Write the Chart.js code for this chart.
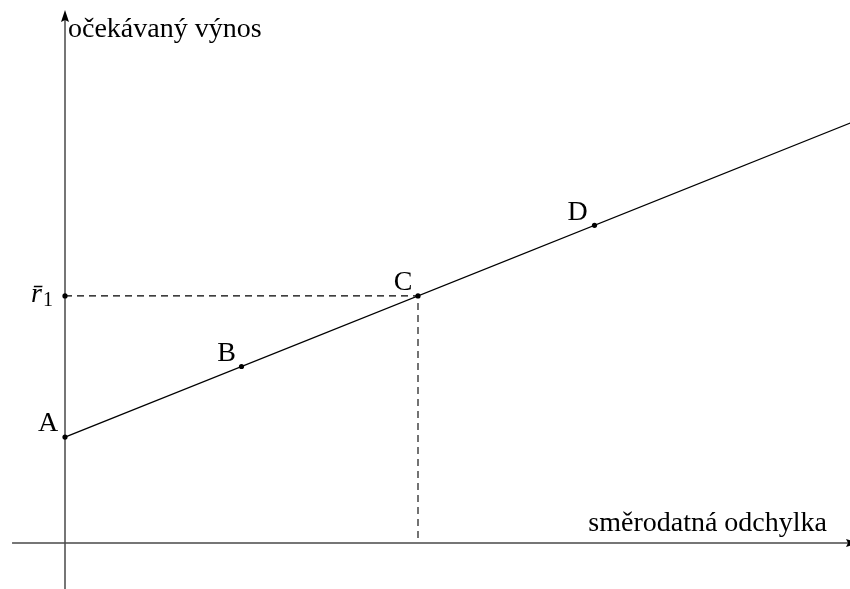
<!DOCTYPE html>
<html><head><meta charset="utf-8">
<script src="https://cdn.jsdelivr.net/npm/chart.js@4/dist/chart.umd.min.js"></script>
<style>html,body{margin:0;padding:0;background:#fff;}#wrap{width:850px;height:589px;}</style>
</head><body><div id="wrap"><canvas id="c" width="850" height="589"></canvas></div>
<script>
// Data (units: standard deviation on x, expected return on y)
const pointNames = ["A", "B", "C", "D"];
const pointX = [0, 1, 2, 3];
const pointY = [0.6, 1.0, 1.4, 1.8];
const lineEndX = 4.45;
const slope = 0.4;
const r1Value = 1.4;
const r1Label = "r\u0304";
const xAxisTitle = "směrodatná odchylka";
const yAxisTitle = "očekávaný výnos";

const lineData = [{x: pointX[0], y: pointY[0]}, {x: lineEndX, y: pointY[0] + slope * lineEndX}];
const dashData = [{x: 0, y: r1Value}, {x: pointX[2], y: r1Value}, {x: pointX[2], y: 0}];
const dotData = pointX.map((x, i) => ({x, y: pointY[i]})).concat([{x: 0, y: r1Value}]);

const FONT = '"Liberation Serif", "DejaVu Serif", serif';

const deco = {
  id: 'deco',
  beforeDatasetsDraw(chart) {
    const ctx = chart.ctx, xs = chart.scales.x, ys = chart.scales.y;
    const ox = xs.getPixelForValue(0), oy = ys.getPixelForValue(0);
    ctx.save();
    ctx.strokeStyle = '#4a4a4a';
    ctx.lineWidth = 1.5;
    ctx.beginPath();
    ctx.moveTo(xs.getPixelForValue(-0.3), oy); ctx.lineTo(chart.width, oy);
    ctx.moveTo(ox, chart.height); ctx.lineTo(ox, 20);
    ctx.stroke();
    ctx.fillStyle = '#000';
    ctx.beginPath();
    ctx.moveTo(ox, 10); ctx.lineTo(ox - 4, 22); ctx.lineTo(ox, 20); ctx.lineTo(ox + 4, 22); ctx.closePath();
    ctx.fill();
    ctx.beginPath();
    const ax = chart.width + 8;
    ctx.moveTo(ax, oy); ctx.lineTo(ax - 12, oy - 4); ctx.lineTo(ax - 10, oy); ctx.lineTo(ax - 12, oy + 4); ctx.closePath();
    ctx.fill();
    ctx.restore();
  },
  afterDraw(chart) {
    const ctx = chart.ctx, xs = chart.scales.x, ys = chart.scales.y;
    const ox = xs.getPixelForValue(0);
    ctx.save();
    ctx.fillStyle = '#000';
    ctx.textBaseline = 'alphabetic';
    const size = 28;
    ctx.font = size + 'px ' + FONT;
    ctx.textAlign = 'left';
    ctx.fillText(yAxisTitle, ox + 3, 37);
    ctx.textAlign = 'right';
    ctx.fillText(xAxisTitle, 827, 531);
    ctx.textAlign = 'center';
    const offs = [[-17, -6], [-15, -6], [-15, -6], [-17, -5]];
    pointNames.forEach((n, i) => {
      const px = xs.getPixelForValue(pointX[i]), py = ys.getPixelForValue(pointY[i]);
      ctx.fillText(n, px + offs[i][0], py + offs[i][1]);
    });
    const ry = ys.getPixelForValue(r1Value);
    ctx.textAlign = 'left';
    ctx.font = 'italic ' + size + 'px ' + FONT;
    ctx.fillText(r1Label, ox - 34, ry + 6);
    ctx.font = '20px ' + FONT;
    ctx.fillText('1', ox - 22, ry + 10);
    ctx.restore();
  }
};

new Chart(document.getElementById('c'), {
  type: 'scatter',
  data: {
    datasets: [
      {data: lineData, showLine: true, borderColor: '#000', borderWidth: 1.3, pointRadius: 0, order: 2},
      {data: dashData, showLine: true, borderColor: '#000', borderWidth: 1.1, borderDash: [7, 5], pointRadius: 0, order: 3},
      {data: dotData, showLine: false, pointRadius: 2.6, pointBackgroundColor: '#000', pointBorderWidth: 0, order: 1}
    ]
  },
  options: {
    responsive: false,
    animation: false,
    layout: {padding: 0, autoPadding: false},
    plugins: {legend: {display: false}, tooltip: {enabled: false}},
    scales: {
      x: {type: 'linear', display: false, min: -65 / 176.5, max: 785 / 176.5},
      y: {type: 'linear', display: false, min: -46 / 176.5, max: 543 / 176.5}
    }
  },
  plugins: [deco]
});
</script>
</body></html>
